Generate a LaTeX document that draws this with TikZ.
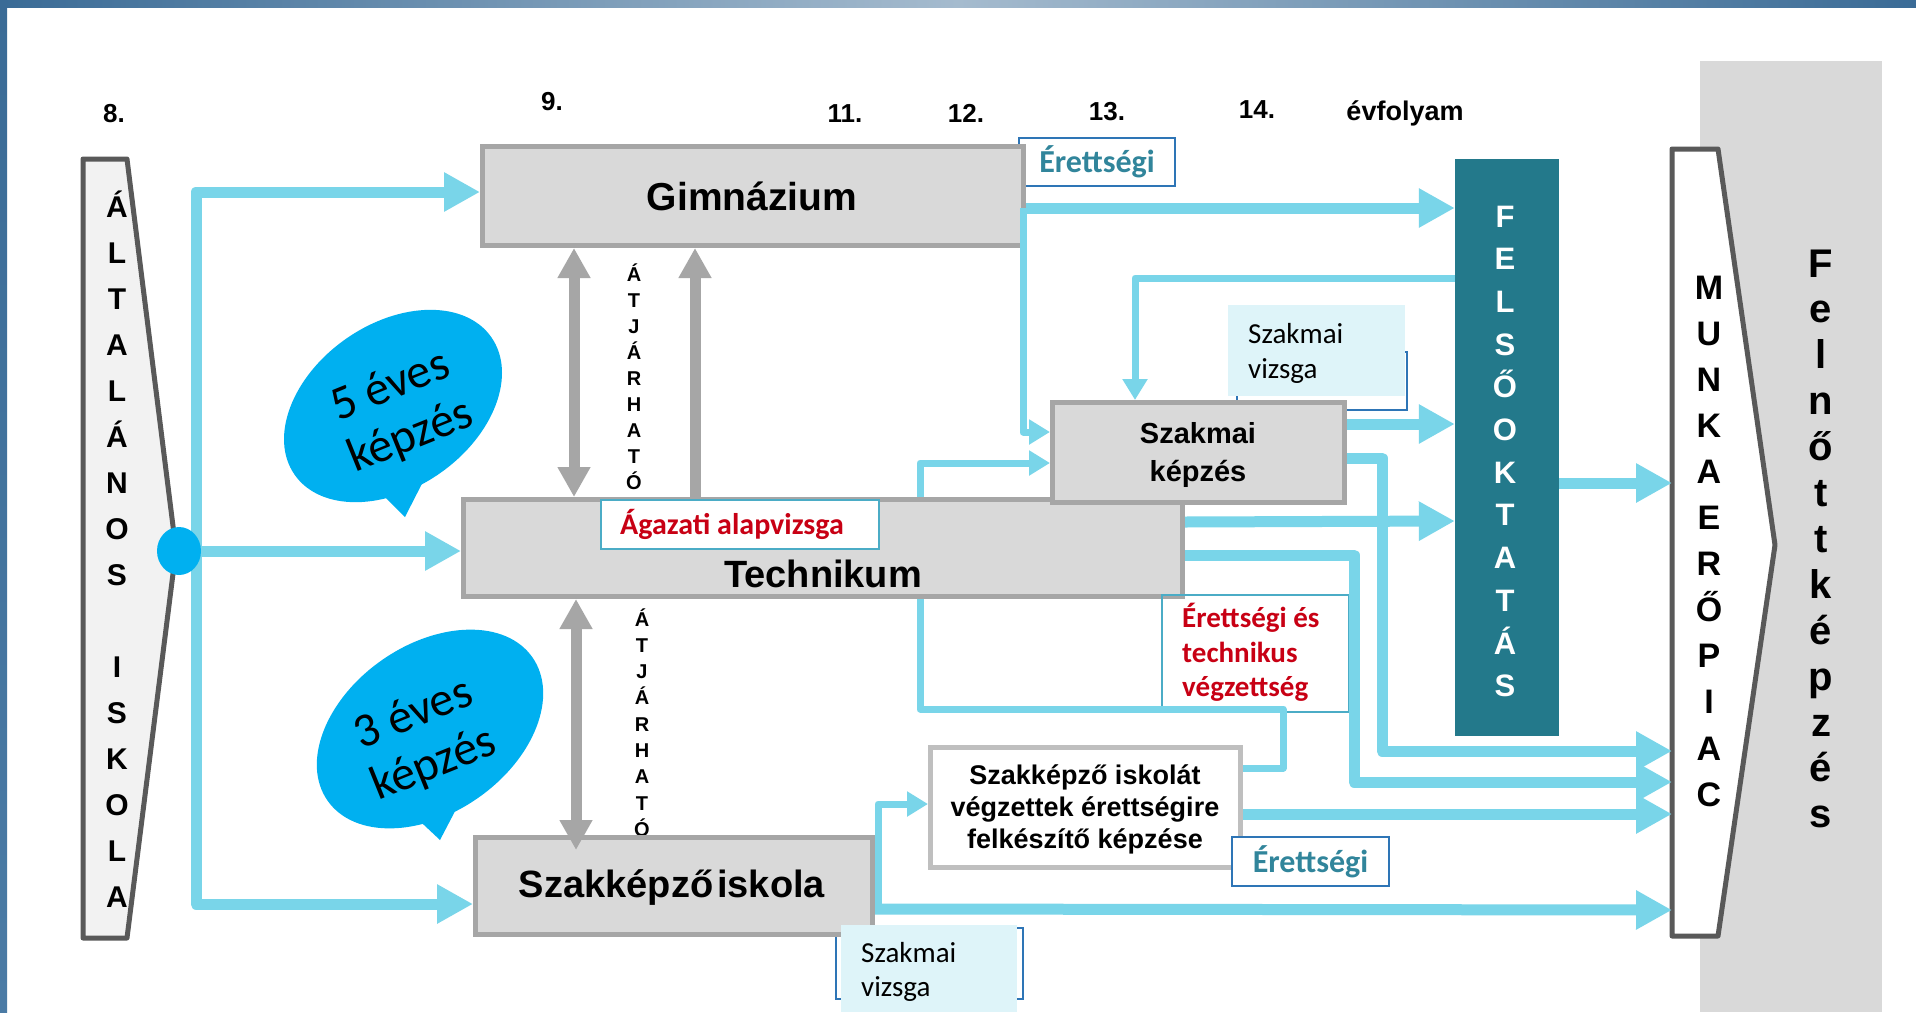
\documentclass[tikz,border=0pt]{standalone}
\usepackage{fontspec}
\setmainfont{Liberation Sans}
\newfontfamily\calfont{Carlito}
\usetikzlibrary{arrows.meta,shapes.geometric}
\definecolor{cyanc}{RGB}{121,213,233}
\definecolor{gfill}{RGB}{217,217,217}
\definecolor{gborder}{RGB}{166,166,166}
\definecolor{wborder}{RGB}{191,191,191}
\definecolor{dgray}{RGB}{89,89,89}
\definecolor{lgfill}{RGB}{242,242,242}
\definecolor{tealbar}{RGB}{35,121,139}
\definecolor{bubble}{RGB}{0,176,240}
\definecolor{tealtxt}{RGB}{49,133,155}
\definecolor{redtxt}{RGB}{200,0,20}
\definecolor{bluebord}{RGB}{46,117,182}
\definecolor{lightcy}{RGB}{222,244,249}
\definecolor{frameD}{RGB}{58,107,150}
\definecolor{frameL}{RGB}{165,187,206}
\definecolor{frameB}{RGB}{75,123,165}
\definecolor{lbord}{RGB}{75,172,198}
\newcommand\fsz[2]{\fontsize{#1}{#2}\selectfont}
\begin{document}
\begin{tikzpicture}[x=1pt,y=-1pt,
  gbox/.style={draw=gborder, fill=gfill, line width=5pt, inner sep=0pt},
  cyb/.style={color=cyanc, line width=11pt, line join=round, -{Triangle[length=36pt,width=37pt]}},
  cyl/.style={color=cyanc, line width=11pt, line join=round},
  cys/.style={color=cyanc, line width=7pt, line join=round, -{Triangle[length=21pt,width=24pt]}},
  cyt/.style={color=cyanc, line width=7pt, line join=round},
  gar/.style={color=gborder, line width=11pt},
  ghead/.style={},
  ltr/.style={anchor=base, inner sep=0pt, font=\bfseries\fsz{30}{36}},
  num/.style={anchor=base, inner sep=0pt, font=\bfseries\fsz{26}{30}},
  txt/.style={anchor=base, inner sep=0pt},
  txw/.style={anchor=base west, inner sep=0pt},
]
\useasboundingbox (0,0) rectangle (1916,1012);
\fill[white] (0,0) rectangle (1916,1012);
% frame
\shade[left color=frameD, right color=frameL] (0,0) rectangle (958,7);
\shade[left color=frameL, right color=frameD] (958,0) rectangle (1916,7);
\shade[top color=frameD, bottom color=frameB] (0,0) rectangle (7,1012);
% Felnottkepzes background
\fill[gfill] (1700,61) rectangle (1882,1012);

% side shapes
\draw[dgray, line width=5pt, fill=lgfill, line join=round] (83,159) -- (127,159) -- (176,550) -- (127,938) -- (83,938) -- cycle;
\draw[dgray, line width=5pt, fill=white, line join=round] (1672,149) -- (1718,149) -- (1775,545) -- (1718,936) -- (1672,936) -- cycle;
\coordinate (munkaW) at (1672,545);

\foreach \c [count=\i from 0] in {Á,L,T,A,L,Á,N,O,S,{},I,S,K,O,L,A}
  \node[ltr] (ai\i) at (117,{217+46*\i}) {\c};
\foreach \c [count=\i from 0] in {M,U,N,K,A,E,R,Ő,P,I,A,C}
  \node[ltr, font=\bfseries\fsz{34}{40}] (mp\i) at (1709,{299+46.1*\i}) {\c};
\foreach \c [count=\i from 0] in {F,e,l,n,ő,t,t,k,é,p,z,é,s}
  \node[ltr, font=\bfseries\fsz{40}{46}] (fk\i) at (1821,{277+45.9*\i}) {\c};

% year labels
\node[num] (n8) at (114,122) {8.};
\node[num] (n9) at (552,110) {9.};
\node[num] (n11) at (845,122) {11.};
\node[num] (n12) at (966,122) {12.};
\node[num] (n13) at (1107,120) {13.};
\node[num] (n14) at (1257,118) {14.};
\node[num, font=\bfseries\fsz{27}{30}] (nev) at (1405,120) {évfolyam};

% speech bubbles
\fill[bubble, rotate around={35:(393,406)}] (393,406) ellipse [x radius=120, y radius=82];
\fill[bubble] (372,484) -- (405,517) -- (430,468) -- cycle;
\node[rotate=22, align=center, inner sep=0pt, font=\calfont\fsz{48}{54}] (b1t) at (401,412) {5 éves\\képzés};
\fill[bubble, rotate around={35:(430,729)}] (430,729) ellipse [x radius=125, y radius=84];
\fill[bubble] (408,810) -- (440,840) -- (464,794) -- cycle;
\node[rotate=22, align=center, inner sep=0pt, font=\calfont\fsz{48}{54}] (b2t) at (424,740) {3 éves\\képzés};

% label frames behind boxes
\node[draw=bluebord, line width=2pt, fill=white, minimum width=156pt, minimum height=48pt, inner sep=0pt, text=tealtxt, font=\calfont\bfseries\fsz{32}{38}] (er1) at (1097,162) {Érettségi};
\node[draw=bluebord, line width=1.5pt, minimum width=170pt, minimum height=58pt, inner sep=0pt] (svb1) at (1322,381) {};
\node[draw=bluebord, line width=1.5pt, minimum width=187pt, minimum height=71pt, inner sep=0pt] (svb2) at (929.5,963.5) {};

% lower atjarhato letters (partly hidden by box)
\foreach \c [count=\i from 0] in {Á,T,J,Á,R,H,A,T,Ó}
  \node[ltr, font=\bfseries\fsz{20}{24}] (al\i) at (642,{626+26.3*\i}) {\c};
\foreach \c [count=\i from 0] in {Á,T,J,Á,R,H,A,T,Ó}
  \node[ltr, font=\bfseries\fsz{20}{24}] (au\i) at (634,{281+26.1*\i}) {\c};

% main boxes
\node[gbox, minimum width=541pt, minimum height=99pt] (gim) at (753,196) {};
\node[gbox, minimum width=719pt, minimum height=97pt] (tech) at (823,548) {};
\node[gbox, minimum width=397pt, minimum height=97pt] (szki) at (674,886) {};
\node[gbox, minimum width=292pt, minimum height=100pt] (szk) at (1198.5,452.5) {};
\node[draw=wborder, fill=white, line width=5pt, inner sep=0pt, minimum width=310pt, minimum height=120pt] (vegz) at (1085.5,807.5) {};
\node[fill=tealbar, inner sep=0pt, minimum width=104pt, minimum height=577pt] (felso) at (1507,447.5) {};
\foreach \c [count=\i from 0] in {F,E,L,S,Ő,O,K,T,A,T,Á,S}
  \node[ltr, text=white, font=\bfseries\fsz{31}{36}] (fo\i) at (1505,{227+42.7*\i}) {\c};

% labels on top of boxes
\node[draw=lbord, line width=2pt, fill=white, minimum width=278pt, minimum height=49pt, inner sep=0pt] (agbox) at (740,524.5) {};
\node[draw=lbord, line width=1.5pt, minimum width=187pt, minimum height=117pt, inner sep=0pt] (etbox) at (1255.5,653.5) {};
\node[draw=bluebord, line width=2pt, fill=white, minimum width=157pt, minimum height=49pt, inner sep=0pt, text=tealtxt, font=\calfont\bfseries\fsz{32}{38}] (er2) at (1310.5,861.5) {Érettségi};
\node[fill=lightcy, minimum width=177pt, minimum height=91pt, inner sep=0pt] (sv1) at (1316.5,350.5) {};
\node[fill=lightcy, minimum width=176pt, minimum height=87pt, inner sep=0pt] (sv2) at (929,968.5) {};

% cyan connectors
\coordinate (jt) at (196,192);
\coordinate (jb) at (196,904);
\draw[cyb] (jb) -- (jt) -- (gim.west |- jt);
\draw[cyb] (jt) -- (jb) -- (szki.west |- jb);
\draw[cyb] (gim.east |- 0,208) -- (felso.west |- 0,208);
\coordinate (gdown) at (1023,208);
\draw[cys] (gdown) -- (1023,432) -- (szk.west |- 0,432);
\draw[cys] (felso.west |- 0,278) -- (1135,278) -- (szk.north -| 1135,0);
\draw[cyb] (szk.east |- 0,424) -- (felso.west |- 0,424);
\draw[cyb] (tech.east |- 0,522) -- (felso.west |- 0,521);
\draw[cyb] (szk.east |- 0,458) -- (1382,458) -- (1382,751) -- (munkaW |- 0,751);
\draw[cyb] (tech.east |- 0,555) -- (1354,555) -- (1354,782) -- (munkaW |- 0,782);
\draw[cyt] (tech.south -| 920,0) -- (920,709) -- (1283,709) -- (1283,768) -- (vegz.east |- 0,768);
\draw[cys] (tech.north -| 920,0) -- (920,463) -- (szk.west |- 0,463);
\coordinate (szkiR) at (878,911);
\draw[cys] (szkiR) -- (878,804) -- (vegz.west |- 0,804);
\draw[cyb] (szki.east |- 0,909) -- (munkaW |- 0,910);
\draw[cyb] (vegz.east |- 0,814) -- (munkaW |- 0,814);
\draw[cyb] (felso.east |- 0,483) -- (munkaW |- 0,483);
\node[fill=bubble, shape=ellipse, minimum width=44pt, minimum height=48pt, inner sep=0pt] (dot) at (179,551) {};
\draw[cyb] (dot.east) -- (tech.west |- dot.east);

% gray arrows
\coordinate (lowtip) at (576,850);
\draw[gar, {Triangle[length=30pt,width=31pt]}-{Triangle[length=30pt,width=31pt]}] (gim.south -| 574,0) -- (tech.north -| 574,0);
\draw[gar, -{Triangle[length=30pt,width=31pt]}] (tech.north -| 695,0) -- (gim.south -| 695,0);
\draw[gar, {Triangle[length=30pt,width=31pt]}-{Triangle[length=30pt,width=31pt]}] (tech.south -| 576,0) -- (lowtip);

% texts
\node[txt, font=\bfseries\fsz{39}{46}] (gimt) at (752,210) {Gimnázium};
\node[txt, font=\bfseries\fsz{38}{46}] (techt) at (823,587) {Technikum};
\node[txt, font=\bfseries\fsz{38}{46}] (szkit) at (672,897) {{\spaceskip=4pt Szakképző iskola}};
\node[txt, font=\bfseries\fsz{29}{36}] (szkt1) at (1198,443) {Szakmai};
\node[txt, font=\bfseries\fsz{29}{36}] (szkt2) at (1198,481) {képzés};
\node[txt, font=\bfseries\fsz{27}{32}] (vt1) at (1085,784) {Szakképző iskolát};
\node[txt, font=\bfseries\fsz{27}{32}] (vt2) at (1085,816) {végzettek érettségire};
\node[txt, font=\bfseries\fsz{27}{32}] (vt3) at (1085,848) {felkészítő képzése};
\node[txt, text=redtxt, font=\calfont\bfseries\fsz{30}{36}] (agt) at (732,534) {Ágazati alapvizsga};
\node[txw, text=redtxt, font=\calfont\bfseries\fsz{29}{36}] (et1) at (1182,627) {Érettségi és};
\node[txw, text=redtxt, font=\calfont\bfseries\fsz{29}{36}] (et2) at (1182,662) {technikus};
\node[txw, text=redtxt, font=\calfont\bfseries\fsz{29}{36}] (et3) at (1182,696) {végzettség};
\node[txw, font=\calfont\fsz{29}{36}] (sv1a) at (1248,343) {Szakmai};
\node[txw, font=\calfont\fsz{29}{36}] (sv1b) at (1248,378) {vizsga};
\node[txw, font=\calfont\fsz{29}{36}] (sv2a) at (861,962) {Szakmai};
\node[txw, font=\calfont\fsz{29}{36}] (sv2b) at (861,996) {vizsga};
\end{tikzpicture}
\end{document}
